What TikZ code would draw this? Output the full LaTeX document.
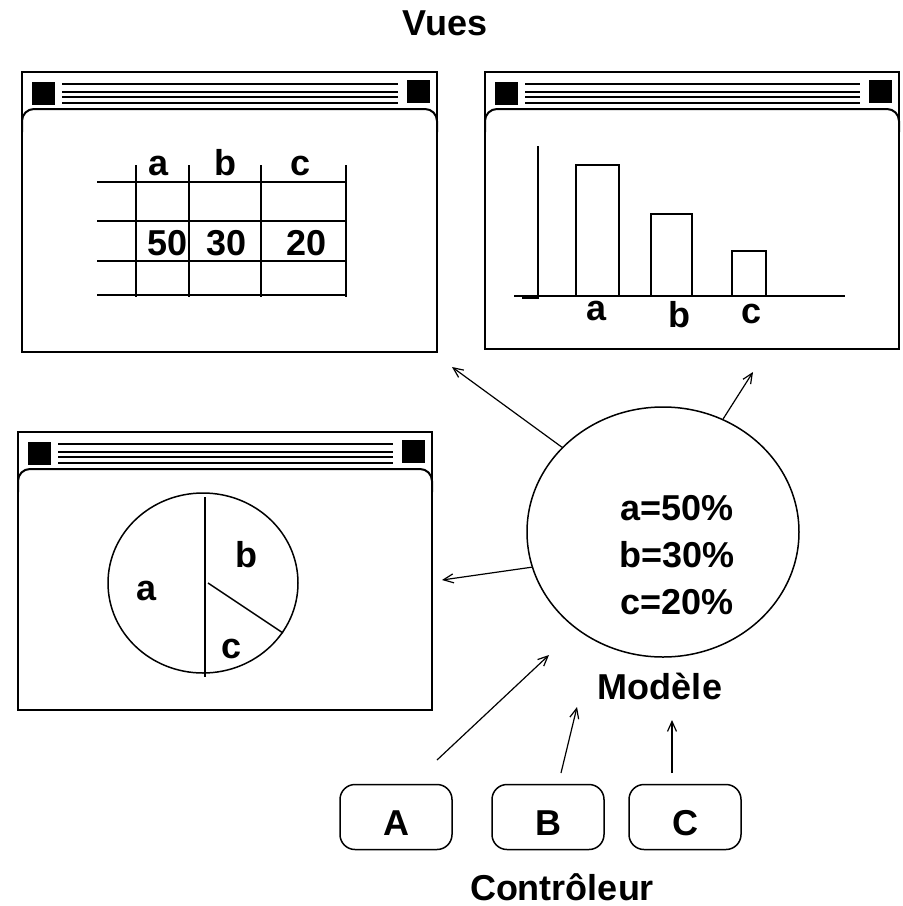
\documentclass[tikz,border=0pt]{standalone}
\usepackage{fontspec}
\setmainfont{Liberation Sans}
\usetikzlibrary{arrows.meta,shapes.geometric}

\begin{document}
\begin{tikzpicture}[x=1pt,y=-1pt,
  lbl/.style={font=\fontsize{36}{40}\selectfont\bfseries,inner sep=0pt},
  frame/.style={line width=2pt},
  thin/.style={line width=1.5pt},
  arr/.style={line width=1.2pt,-{Straight Barb[length=10pt,width=9pt]}},
  ctrl/.style={draw,line width=1.5pt,rounded corners=15pt,minimum width=112pt,minimum height=65pt}]
\useasboundingbox (0,0) rectangle (903,906);
\node[lbl,anchor=base] (vues) at (445,35) {Vues};
% the three windows
\foreach \xa/\ya/\xb/\yb in {22/72/437/352, 485/72/899/349, 18/432/432/710}{
  \draw[frame] (\xa,\ya) rectangle (\xb,\yb);
  \fill (\xa+10,\ya+10) rectangle (\xa+33,\ya+33);
  \fill (\xb-30,\ya+8) rectangle (\xb-7,\ya+31);
  \foreach \dy in {12,20,25,31}
    \draw[thin] (\xa+40,\ya+\dy) -- (\xb-39,\ya+\dy);
  \draw[frame,rounded corners=12pt] (\xa,\ya+60) -- (\xa,\ya+37) -- (\xb,\ya+37) -- (\xb,\ya+60);
}
% table
\foreach \y in {182,221,261,295} \draw[frame] (97,\y) -- (347,\y);
\foreach \x in {136,189,261,346} \draw[frame] (\x,165) -- (\x,297);
\node[lbl,anchor=base] (ta) at (159,175) {a};
\node[lbl,anchor=base] (tb) at (225,175) {b};
\node[lbl,anchor=base] (tc) at (301,175) {c};
\node[lbl,anchor=base] (t50) at (168,255) {50};
\node[lbl,anchor=base] (t30) at (227,255) {30};
\node[lbl,anchor=base] (t20) at (307,255) {20};
% bars
\draw[thin] (538,146) -- (538,297);
\draw[line width=2.5pt] (522,298) -- (539,298);
\draw[thin] (514,296) -- (845,296);
\draw[thin] (576,296) rectangle (619,165);
\draw[thin] (651,296) rectangle (692,214);
\draw[thin] (732,296) rectangle (766,251);
\node[lbl,anchor=base] (ba) at (597,320) {a};
\node[lbl,anchor=base] (bb) at (679,327) {b};
\node[lbl,anchor=base] (bc) at (752,323) {c};
% pie
\draw[thin] (203,583) ellipse [x radius=95, y radius=90];
\draw[thin] (205,497) -- (205,677);
\draw[thin] (208,583) -- (283,633);
\node[lbl,anchor=base] (pa) at (147,600) {a};
\node[lbl,anchor=base] (pb) at (246,567) {b};
\node[lbl,anchor=base] (pc) at (232,658) {c};
% model
\node[draw,ellipse,thin,minimum width=272pt,minimum height=250pt,inner sep=0pt] (model) at (663,532) {};
\node[lbl,font=\fontsize{36}{47}\selectfont\bfseries,align=center] (modtxt) at (677,555) {a=50\%\\b=30\%\\c=20\%};
\node[lbl,anchor=base] (modlbl) at (660,699) {Modèle};
% controllers
\node[ctrl,lbl] (ctlA) at (396,817) {};
\node[ctrl,lbl] (ctlB) at (548,817) {};
\node[ctrl,lbl] (ctlC) at (685,817) {};
\node[lbl,anchor=base] (txtA) at (ctlA.center |- 0,835) {A};
\node[lbl,anchor=base] (txtB) at (ctlB.center |- 0,835) {B};
\node[lbl,anchor=base] (txtC) at (ctlC.center |- 0,835) {C};
\node[lbl,anchor=base] (ctltitle) at (562,900) {Contrôleur};
% arrows
\coordinate (toTable) at (452,367);
\coordinate (toBars) at (753,372);
\coordinate (toPie) at (442,580);
\draw[arr] (model.140) -- (toTable);
\draw[arr] (model.62) -- (toBars);
\draw[arr] (model.195) -- (toPie);
\coordinate (fromA) at (437,760);
\coordinate (toModA) at (549,655);
\coordinate (fromB) at (561,773);
\coordinate (toModB) at (577,707);
\coordinate (fromC) at (672,773);
\coordinate (toModC) at (672,720);
\draw[arr] (fromA) -- (toModA);
\draw[arr] (fromB) -- (toModB);
\draw[arr] (fromC) -- (toModC);
\end{tikzpicture}
\end{document}
